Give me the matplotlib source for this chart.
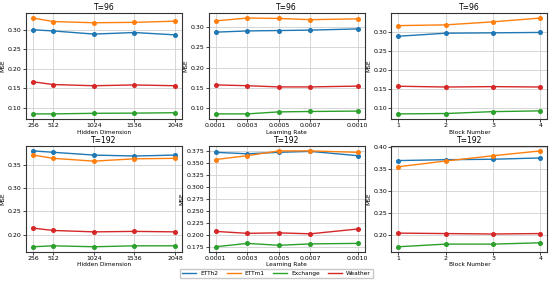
import matplotlib
matplotlib.use("Agg")
import matplotlib.pyplot as plt
import numpy as np

series_names = ["ETTh2", "ETTm1", "Exchange", "Weather"]
colors = ["#1f77b4", "#ff7f0e", "#2ca02c", "#d62728"]

hidden_dims = [256, 512, 1024, 1536, 2048]
learning_rates = [0.0001, 0.0003, 0.0005, 0.0007, 0.0010]
block_numbers = [1, 2, 3, 4]

# T=96
hidden_96 = {
    "ETTh2": [0.300, 0.297, 0.289, 0.293, 0.287],
    "ETTm1": [0.330, 0.321, 0.318, 0.319, 0.322],
    "Exchange": [0.085, 0.085, 0.0865, 0.087, 0.088],
    "Weather": [0.167, 0.160, 0.157, 0.159, 0.157],
}
lr_96 = {
    "ETTh2": [0.288, 0.291, 0.292, 0.293, 0.296],
    "ETTm1": [0.316, 0.323, 0.322, 0.319, 0.321],
    "Exchange": [0.085, 0.085, 0.090, 0.091, 0.092],
    "Weather": [0.157, 0.155, 0.152, 0.152, 0.154],
}
block_96 = {
    "ETTh2": [0.289, 0.297, 0.298, 0.299],
    "ETTm1": [0.317, 0.319, 0.327, 0.337],
    "Exchange": [0.084, 0.085, 0.090, 0.092],
    "Weather": [0.157, 0.155, 0.156, 0.155],
}

# T=192
hidden_192 = {
    "ETTh2": [0.380, 0.377, 0.371, 0.369, 0.371],
    "ETTm1": [0.371, 0.364, 0.358, 0.363, 0.364],
    "Exchange": [0.174, 0.176, 0.174, 0.176, 0.176],
    "Weather": [0.214, 0.209, 0.206, 0.207, 0.206],
}
lr_192 = {
    "ETTh2": [0.372, 0.369, 0.372, 0.374, 0.365],
    "ETTm1": [0.357, 0.365, 0.375, 0.375, 0.372],
    "Exchange": [0.175, 0.182, 0.178, 0.181, 0.182],
    "Weather": [0.207, 0.203, 0.204, 0.202, 0.212],
}
block_192 = {
    "ETTh2": [0.370, 0.372, 0.373, 0.376],
    "ETTm1": [0.356, 0.369, 0.381, 0.392],
    "Exchange": [0.174, 0.180, 0.180, 0.183],
    "Weather": [0.205, 0.204, 0.203, 0.204],
}

plt.rcParams["font.size"] = 4.5

fig, axes = plt.subplots(2, 3, figsize=(5.53, 2.82), dpi=100)
fig.subplots_adjust(left=0.047, right=0.99, top=0.953, bottom=0.108,
                    wspace=0.17, hspace=0.26)

panels = [
    (0, 0, hidden_dims, hidden_96, "T=96", "Hidden Dimension", hidden_dims,
     [f"{v}" for v in hidden_dims]),
    (0, 1, learning_rates, lr_96, "T=96", "Learning Rate", learning_rates,
     [f"{v:.4f}" for v in learning_rates]),
    (0, 2, block_numbers, block_96, "T=96", "Block Number", block_numbers,
     [f"{v}" for v in block_numbers]),
    (1, 0, hidden_dims, hidden_192, "T=192", "Hidden Dimension", hidden_dims,
     [f"{v}" for v in hidden_dims]),
    (1, 1, learning_rates, lr_192, "T=192", "Learning Rate", learning_rates,
     [f"{v:.4f}" for v in learning_rates]),
    (1, 2, block_numbers, block_192, "T=192", "Block Number", block_numbers,
     [f"{v}" for v in block_numbers]),
]

for r, c, xs, data, title, xlabel, ticks, ticklabels in panels:
    ax = axes[r, c]
    for name, col in zip(series_names, colors):
        ax.plot(xs, data[name], color=col, marker="o", markersize=2.6,
                linewidth=1.0, label=name)
    ax.set_title(title, fontsize=5.5, pad=2.5)
    ax.set_xlabel(xlabel, fontsize=4.2, labelpad=1)
    ax.set_ylabel("MSE", fontsize=4.2, labelpad=1.5)
    ax.set_xticks(ticks)
    ax.set_xticklabels(ticklabels)
    ax.tick_params(axis="both", labelsize=4.5, length=2, pad=1.2, width=0.5)
    ax.grid(True, color="#d0d0d0", linewidth=0.6)
    ax.set_axisbelow(True)
    for s in ax.spines.values():
        s.set_linewidth(0.8)
        s.set_color("#333333")

axes[1, 1].set_yticks(np.arange(0.175, 0.376, 0.025))

leg_handles = [plt.Line2D([0], [0], color=col, linewidth=1.0) for col in colors]
fig.legend(leg_handles, series_names, loc="lower center", ncol=4,
           bbox_to_anchor=(0.5, 0.005), fontsize=4.2, frameon=True,
           handlelength=2.4, columnspacing=1.4, borderpad=0.35,
           handletextpad=0.7, fancybox=False, edgecolor="#bbbbbb")

fig.savefig("out.png", dpi=100)
